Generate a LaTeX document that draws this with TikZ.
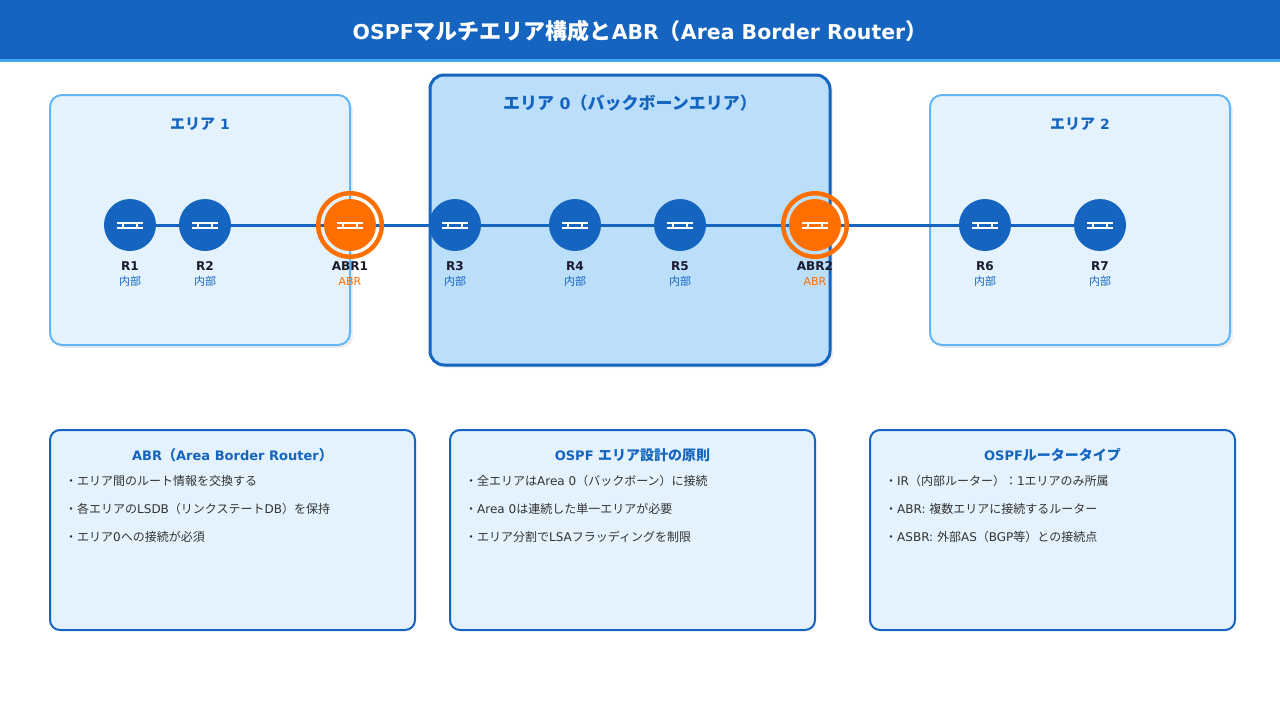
\documentclass[tikz,border=0pt]{standalone}
\usepackage{fontspec}
\setmainfont{Noto Sans CJK JP}
\newfontfamily\latfont{DejaVu Sans}[BoldFeatures={Scale=0.93}]
\newcommand{\lat}[1]{{\latfont #1}}
\usetikzlibrary{calc,backgrounds,shadows}
\definecolor{mainblue}{HTML}{1565C0}
\definecolor{lineblue}{HTML}{42A5F5}
\definecolor{edgeblue}{HTML}{64B5F6}
\definecolor{paleblue}{HTML}{E3F2FD}
\definecolor{midblue}{HTML}{BBDEFB}
\definecolor{abrorange}{HTML}{FF6F00}
\definecolor{namedark}{HTML}{1A1A2E}
\definecolor{bodygrey}{HTML}{333333}
\newcommand{\fs}[1]{\fontsize{#1}{#1}\selectfont}
\tikzset{
    areabox/.style={draw=edgeblue,fill=paleblue,line width=2pt,rounded corners=12pt,
        drop shadow={shadow xshift=3pt,shadow yshift=-3pt,opacity=0.07,fill=black}},
    backbone/.style={draw=mainblue,fill=midblue,line width=3pt,rounded corners=14pt,
        drop shadow={shadow xshift=3pt,shadow yshift=-3pt,opacity=0.07,fill=black}},
    infobox/.style={draw=mainblue,fill=paleblue,line width=2pt,rounded corners=10pt},
    router/.style={circle,fill=mainblue,minimum size=52pt,inner sep=0pt},
    abrouter/.style={router,fill=abrorange},
    abrring/.style={circle,draw=abrorange,line width=4.5pt,minimum size=63.5pt,inner sep=0pt},
    link/.style={mainblue,line width=3pt},
    icon/.style={white,line width=2pt},
    rname/.style={anchor=base,font=\fs{13}\latfont\bfseries,text=namedark},
    rrole/.style={anchor=base,font=\fs{11},text=mainblue},
    abrrole/.style={anchor=base,font=\fs{11}\latfont,text=abrorange},
    areatitle/.style={anchor=base,font=\fs{15}\bfseries,text=mainblue},
    infotitle/.style={anchor=base,font=\fs{14}\bfseries,text=mainblue},
    infoline/.style={anchor=base west,font=\fs{12},text=bodygrey,inner xsep=0pt}
}
\begin{document}
\begin{tikzpicture}[x=1pt,y=-1pt]
\useasboundingbox (0,0) rectangle (1280,720);
% header
\fill[mainblue] (0,0) rectangle (1280,60);
\fill[lineblue] (0,59) rectangle (1280,62);
\node[anchor=base,font=\fs{22}\bfseries,text=white] (title) at (640,39) {\lat{OSPF}マルチエリア構成と\lat{ABR}（\lat{Area Border Router}）};
% areas
\begin{pgfonlayer}{background}
\draw[areabox] (50,95) rectangle (350,345);
\draw[areabox] (930,95) rectangle (1230,345);
\draw[backbone] (430,75) rectangle (830,365);
\end{pgfonlayer}
\node[areatitle] (area1) at (200,129) {エリア\lat{ 1}};
\node[areatitle,font=\fs{17}\bfseries] (area0) at (630,109) {エリア\lat{ 0}（バックボーンエリア）};
\node[areatitle] (area2) at (1080,129) {エリア\lat{ 2}};
% routers
\node[router] (R1) at (130,225) {};
\node[router] (R2) at (205,225) {};
\node[abrring] (ABR1ring) at (350,225) {};
\node[abrouter] (ABR1) at (350,225) {};
\node[router] (R3) at (455,225) {};
\node[router] (R4) at (575,225) {};
\node[router] (R5) at (680,225) {};
\node[abrring] (ABR2ring) at (815,225) {};
\node[abrouter] (ABR2) at (815,225) {};
\node[router] (R6) at (985,225) {};
\node[router] (R7) at (1100,225) {};
\begin{pgfonlayer}{background}
\draw[link] (R1)--(R2);
\draw[link] (R2)--(ABR1);
\draw[link] (ABR1)--(R3);
\draw[link] (R3)--(R4);
\draw[link] (R4)--(R5);
\draw[link] (R5)--(ABR2);
\draw[link] (ABR2)--(R6);
\draw[link] (R6)--(R7);
\end{pgfonlayer}
\foreach \r in {R1,R2,ABR1,R3,R4,R5,ABR2,R6,R7}{
    \draw[icon] ($(\r)+(-13,-2)$)--($(\r)+(13,-2)$);
    \draw[icon] ($(\r)+(-13,3)$)--($(\r)+(13,3)$);
    \draw[icon] ($(\r)+(-7,-2)$)--($(\r)+(-7,3)$);
    \draw[icon] ($(\r)+(7,-2)$)--($(\r)+(7,3)$);
}
% router labels
\node[rname] (R1name) at (130,270) {R1};
\node[rrole] (R1role) at (130,285) {内部};
\node[rname] (R2name) at (205,270) {R2};
\node[rrole] (R2role) at (205,285) {内部};
\node[rname] (ABR1name) at (350,270) {ABR1};
\node[abrrole] (ABR1role) at (350,285) {ABR};
\node[rname] (R3name) at (455,270) {R3};
\node[rrole] (R3role) at (455,285) {内部};
\node[rname] (R4name) at (575,270) {R4};
\node[rrole] (R4role) at (575,285) {内部};
\node[rname] (R5name) at (680,270) {R5};
\node[rrole] (R5role) at (680,285) {内部};
\node[rname] (ABR2name) at (815,270) {ABR2};
\node[abrrole] (ABR2role) at (815,285) {ABR};
\node[rname] (R6name) at (985,270) {R6};
\node[rrole] (R6role) at (985,285) {内部};
\node[rname] (R7name) at (1100,270) {R7};
\node[rrole] (R7role) at (1100,285) {内部};
% info boxes
\draw[infobox] (50,430) rectangle (415,630);
\draw[infobox] (450,430) rectangle (815,630);
\draw[infobox] (870,430) rectangle (1235,630);
\node[infotitle] (abrtitle) at (232.5,460) {\lat{ABR}（\lat{Area Border Router}）};
\node[infoline] (abr1) at (65,485) {・エリア間のルート情報を交換する};
\node[infoline] (abr2) at (65,513) {・各エリアの\lat{LSDB}（リンクステート\lat{DB}）を保持};
\node[infoline] (abr3) at (65,541) {・エリア\lat{0}への接続が必須};
\node[infotitle] (designtitle) at (632.5,460) {\lat{OSPF }エリア設計の原則};
\node[infoline] (design1) at (465,485) {・全エリアは\lat{Area 0}（バックボーン）に接続};
\node[infoline] (design2) at (465,513) {・\lat{Area 0}は連続した単一エリアが必要};
\node[infoline] (design3) at (465,541) {・エリア分割で\lat{LSA}フラッディングを制限};
\node[infotitle] (typetitle) at (1052.5,460) {\lat{OSPF}ルータータイプ};
\node[infoline] (type1) at (885,485) {・\lat{IR}（内部ルーター）：\lat{1}エリアのみ所属};
\node[infoline] (type2) at (885,513) {・\lat{ABR: }複数エリアに接続するルーター};
\node[infoline] (type3) at (885,541) {・\lat{ASBR: }外部\lat{AS}（\lat{BGP}等）との接続点};
\end{tikzpicture}
\end{document}
